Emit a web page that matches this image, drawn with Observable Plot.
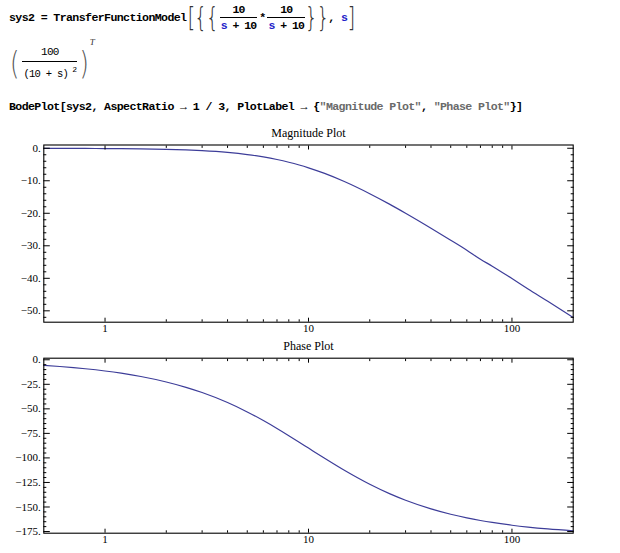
<!DOCTYPE html>
<html>
<head>
<meta charset="utf-8">
<script src="https://cdn.jsdelivr.net/npm/d3@7"></script>
<script src="https://cdn.jsdelivr.net/npm/@observablehq/plot@0.6"></script>
<style>
  html, body { margin: 0; padding: 0; background: #fff; }
  #wrap { position: relative; width: 620px; height: 553px; overflow: hidden; background: #fff; }
  .code { font-family: "Liberation Mono", "DejaVu Sans Mono", monospace; font-weight: bold; font-size: 11.6px; letter-spacing: -0.62px; color: #000; white-space: pre; }
  .out { font-family: "Liberation Mono", "DejaVu Sans Mono", monospace; font-weight: normal; font-size: 10.5px; letter-spacing: -0.7px; color: #000; white-space: pre; }
  .blue { color: #2020c8; }
  .gray { color: #6a6a6a; }
  .abs { position: absolute; }
  .frac { display: inline-flex; flex-direction: column; align-items: center; }
  .frac .num { padding: 0 1px 1px 1px; }
  .frac .den { border-top: 1px solid #000; padding: 1px 1px 0 1px; }
  .big { font-family: "DejaVu Sans", sans-serif; font-weight: 200; color: #333; display: inline-block; transform: scaleY(1.35); }
  .plot { position: absolute; left: 0; }
</style>
</head>
<body>
<div id="wrap">
  <!-- input line 1 -->
  <div class="abs" style="left:9px; top:1px; height:32px; display:flex; align-items:center;">
    <span class="code">sys2 = TransferFunctionModel</span>
    <span class="big" style="font-size:20px; margin-left:1px; letter-spacing:-1px;">[{{</span>
    <span class="frac code" style="font-size:11.5px; letter-spacing:-1px; margin-left:2px;"><span class="num">10</span><span class="den"><span class="blue">s</span> + 10</span></span>
    <span class="code" style="margin:0 2px;">*</span>
    <span class="frac code" style="font-size:11.5px; letter-spacing:-1px;"><span class="num">10</span><span class="den"><span class="blue">s</span> + 10</span></span>
    <span class="big" style="font-size:20px; letter-spacing:-1px;">}}</span>
    <span class="code">, <span class="blue">s</span></span>
    <span class="big" style="font-size:20px;">]</span>
  </div>
  <!-- output line 2 -->
  <div class="abs" style="left:10px; top:43px; height:40px; display:flex; align-items:center;">
    <span class="big" style="font-size:24px; color:#555;">(</span>
    <span class="frac out" style="margin:0 2px 0 3px;"><span class="num" style="padding-bottom:3px; font-size:11px;">100</span><span class="den" style="padding-top:3px;">(10 + s)<sup style="font-size:8px;"> 2</sup></span></span>
    <span class="big" style="font-size:24px; color:#555;">)</span>
    <span style="align-self:flex-start; margin-top:-6px; margin-left:1px; font-family:'Liberation Serif', serif; font-style:italic; font-size:9px; line-height:10px; color:#333;">T</span>
  </div>
  <!-- input line 3 -->
  <div class="abs code" style="left:9px; top:100px;">BodePlot[sys2, AspectRatio → 1 / 3, PlotLabel → {<span class="gray">"Magnitude Plot"</span>, <span class="gray">"Phase Plot"</span>}]</div>

  <div id="mag" class="plot" style="top:124px;"></div>
  <div id="phase" class="plot" style="top:338px;"></div>
</div>

<script>
// Frequencies (rad/s) and values
const freq = [0.5, 0.6, 0.7, 0.8, 1, 1.2, 1.5, 2, 2.5, 3, 4, 5, 6, 7, 8, 9, 10, 12, 15, 20, 25, 30, 40, 50, 60, 70, 80, 100, 120, 150, 200];
const magnitudeDb = [-0.022, -0.031, -0.043, -0.055, -0.086, -0.124, -0.193, -0.341, -0.527, -0.749, -1.289, -1.938, -2.671, -3.464, -4.297, -5.154, -6.021, -7.745, -10.238, -13.979, -17.19, -20.0, -24.609, -28.299, -31.364, -34.151, -36.258, -40.086, -43.287, -47.08, -52.06];
const phaseDeg = [-5.72, -6.87, -8.01, -9.15, -11.42, -13.69, -17.06, -22.62, -28.07, -33.4, -43.6, -53.13, -61.93, -69.98, -77.32, -83.97, -90.0, -100.39, -112.62, -126.87, -136.4, -143.13, -151.93, -157.38, -161.08, -163.74, -165.75, -168.58, -170.47, -172.37, -174.28];

// Tick labels
const xMajor = [1, 10, 100];
const xMinor = [2, 3, 4, 5, 6, 7, 8, 9, 20, 30, 40, 50, 60, 70, 80, 90];
const magMajor = [0, -10, -20, -30, -40, -50];
const magMinor = [-2, -4, -6, -8, -12, -14, -16, -18, -22, -24, -26, -28, -32, -34, -36, -38, -42, -44, -46, -48, -52];
const phaseMajor = [0, -25, -50, -75, -100, -125, -150, -175];
const phaseMinor = [-5, -10, -15, -20, -30, -35, -40, -45, -55, -60, -65, -70, -80, -85, -90, -95, -105, -110, -115, -120, -130, -135, -140, -145, -155, -160, -165, -170];

const titles = ["Magnitude Plot", "Phase Plot"];

const magData = freq.map((f, i) => ({f, v: magnitudeDb[i]}));
const phaseData = freq.map((f, i) => ({f, v: phaseDeg[i]}));

const yFmt = d => (d < 0 ? "\u2212" : "") + Math.abs(d) + ".";
const blank = () => "";

function bode(data, title, yDomain, yMajor, yMinor, opts) {
  const font = {fontFamily: "'Liberation Serif', 'Times New Roman', serif", fontSize: "11px", color: "#000", background: "transparent", overflow: "visible"};
  return Plot.plot({
    width: 620,
    height: opts.height,
    marginLeft: 43.3,
    marginRight: 47.3,
    marginTop: opts.marginTop,
    marginBottom: opts.marginBottom,
    style: font,
    x: {type: "log", domain: [0.5, 200]},
    y: {domain: yDomain},
    marks: [
      Plot.line(data, {x: "f", y: "v", stroke: "#3d3d99", strokeWidth: 1.2, curve: "monotone-x"}),
      // bottom axis
      Plot.axisX(xMajor, {anchor: "bottom", tickSize: -4, tickPadding: 5.5, tickFormat: d => String(d), label: null, fontSize: 11}),
      Plot.axisX(xMinor, {anchor: "bottom", tickSize: -2.4, tickFormat: blank, label: null}),
      // top axis
      Plot.axisX(xMajor, {anchor: "top", tickSize: -4, tickFormat: blank, label: null}),
      Plot.axisX(xMinor, {anchor: "top", tickSize: -2.4, tickFormat: blank, label: null}),
      // left axis
      Plot.axisY(yMajor, {anchor: "left", tickSize: -6.5, tickPadding: 9.5, tickFormat: yFmt, label: null, fontSize: 11}),
      Plot.axisY(yMinor, {anchor: "left", tickSize: -3, tickFormat: blank, label: null}),
      // right axis
      Plot.axisY(yMajor, {anchor: "right", tickSize: -6.5, tickFormat: blank, label: null}),
      Plot.axisY(yMinor, {anchor: "right", tickSize: -3, tickFormat: blank, label: null}),
      Plot.frame({stroke: "#000", strokeWidth: 1.1}),
      Plot.text([title], {frameAnchor: "top", dy: -12, text: d => d, fontSize: 12, fill: "#000", lineAnchor: "middle"})
    ]
  });
}

document.getElementById("mag").appendChild(
  bode(magData, titles[0], [-53.5, 1], magMajor, magMinor, {height: 214, marginTop: 20.5, marginBottom: 16.3})
);
document.getElementById("phase").appendChild(
  bode(phaseData, titles[1], [-176.7, 1.6], phaseMajor, phaseMinor, {height: 215, marginTop: 19.7, marginBottom: 20.3})
);
</script>
</body>
</html>
